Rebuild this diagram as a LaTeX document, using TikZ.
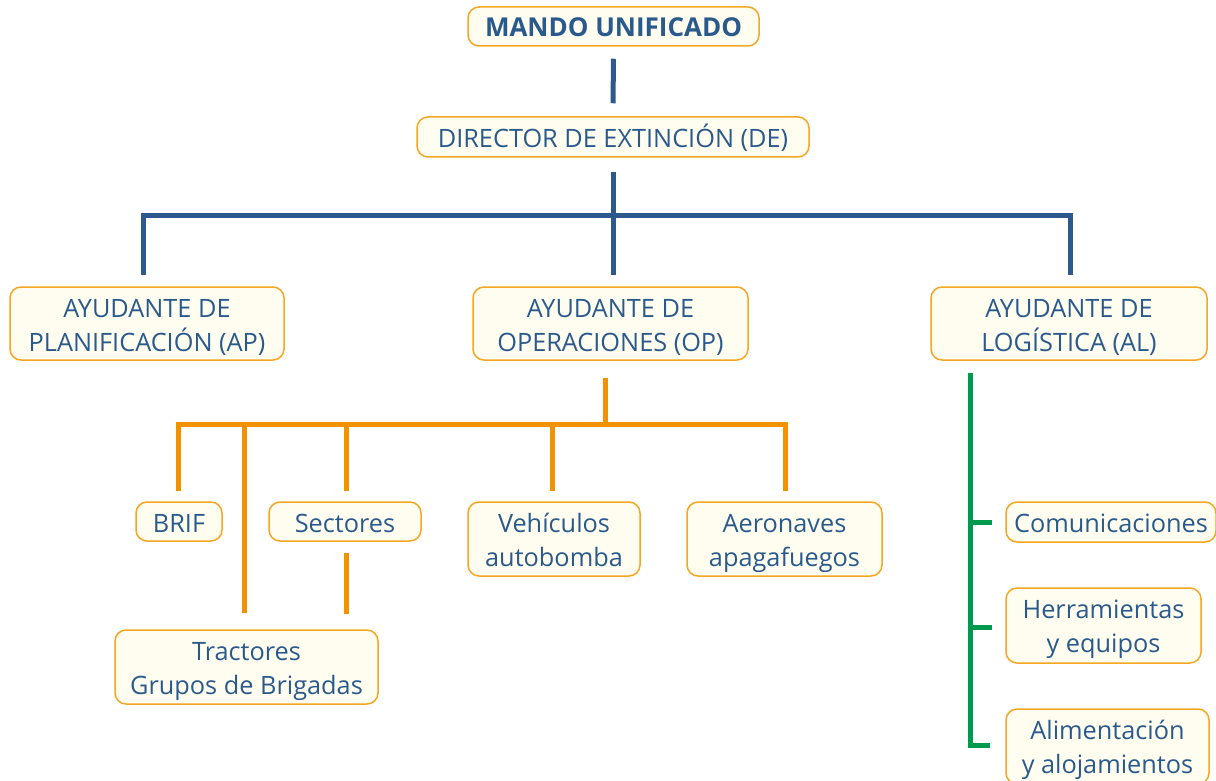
\documentclass[tikz,border=0pt]{standalone}
\usepackage{fontspec}
\setmainfont{Open Sans}
\definecolor{txtblue}{HTML}{2A5A8C}
\definecolor{lnblue}{HTML}{2C5A8E}
\definecolor{lnorange}{HTML}{F39200}
\definecolor{bxborder}{HTML}{F5A623}
\definecolor{bxfill}{HTML}{FFFDF0}
\definecolor{lngreen}{HTML}{009A4E}
\newcommand\ls{\rule[-6pt]{0pt}{33pt}}
\begin{document}
\begin{tikzpicture}[x=1pt,y=-1pt,
  box/.style={draw=bxborder,fill=bxfill,line width=1.5pt,rounded corners=11pt,
    inner sep=0pt,align=center,text=txtblue,font=\fontsize{25.3}{34}\selectfont},
  blueln/.style={draw=lnblue,line width=5pt},
  orangeln/.style={draw=lnorange,line width=5pt},
  greenln/.style={draw=lngreen,line width=5pt}]
\clip (0,0) rectangle (1216,781);
\fill[white] (0,0) rectangle (1216,781);
% boxes
\node[box,minimum width=291pt,minimum height=39pt,font=\fontsize{26}{34}\selectfont\bfseries] (mu) at (613.5,26.5) {\ls MANDO UNIFICADO};
\node[box,minimum width=392pt,minimum height=40pt] (de) at (613,137) {\ls DIRECTOR DE EXTINCIÓN (DE)};
\node[box,minimum width=274pt,minimum height=73pt] (ap) at (147,323.5) {\ls AYUDANTE DE\\\ls PLANIFICACIÓN (AP)};
\node[box,minimum width=275pt,minimum height=73pt] (op) at (610.5,323.5) {\ls AYUDANTE DE\\\ls OPERACIONES (OP)};
\node[box,minimum width=276pt,minimum height=73pt] (al) at (1069,323.5) {\ls AYUDANTE DE\\\ls LOGÍSTICA (AL)};
\node[box,minimum width=86pt,minimum height=39pt] (brif) at (179,521.5) {\ls BRIF};
\node[box,minimum width=152pt,minimum height=39pt] (sec) at (345,521.5) {\ls Sectores};
\node[box,minimum width=172pt,minimum height=74pt] (veh) at (554,539) {\ls Vehículos\\\ls autobomba};
\node[box,minimum width=195pt,minimum height=74pt] (aer) at (784.5,539) {\ls Aeronaves\\\ls apagafuegos};
\node[box,minimum width=263pt,minimum height=74pt] (tra) at (246.5,667) {\ls Tractores\\\ls Grupos de Brigadas};
\node[box,minimum width=210pt,minimum height=40pt] (com) at (1111,522) {\ls Comunicaciones};
\node[box,minimum width=195pt,minimum height=75pt] (her) at (1103.5,625.5) {\ls Herramientas\\\ls y equipos};
\node[box,minimum width=203pt,minimum height=75pt] (ali) at (1107.5,746.5) {\ls Alimentación\\\ls y alojamientos};
% blue connectors
\coordinate (bl) at (143,215);
\coordinate (br) at (1070,215);
\draw[blueln] ([yshift=-12pt]mu.south) -- ([yshift=13pt]de.north);
\draw[blueln] ([yshift=-14pt]de.south) -- (613,275);
\draw[blueln] (143,275) -- (bl) -- (br) -- (1070,275);
% orange connectors
\coordinate (ol) at (178,424);
\coordinate (or) at (785,424);
\draw[orangeln] (605,378) -- (605,424);
\draw[orangeln] (178,491) -- (ol) -- (or) -- (785,491);
\draw[orangeln] (244,424) -- (244,613);
\draw[orangeln] (346,424) -- (346,491);
\draw[orangeln] (552,424) -- (552,491);
\draw[orangeln] (346,553) -- (346,614);
% green connectors
\draw[greenln] (970,373) -- (970,745) -- (990,745);
\draw[greenln] (970,522) -- (992,522);
\draw[greenln] (970,627) -- (992,627);
\end{tikzpicture}
\end{document}
